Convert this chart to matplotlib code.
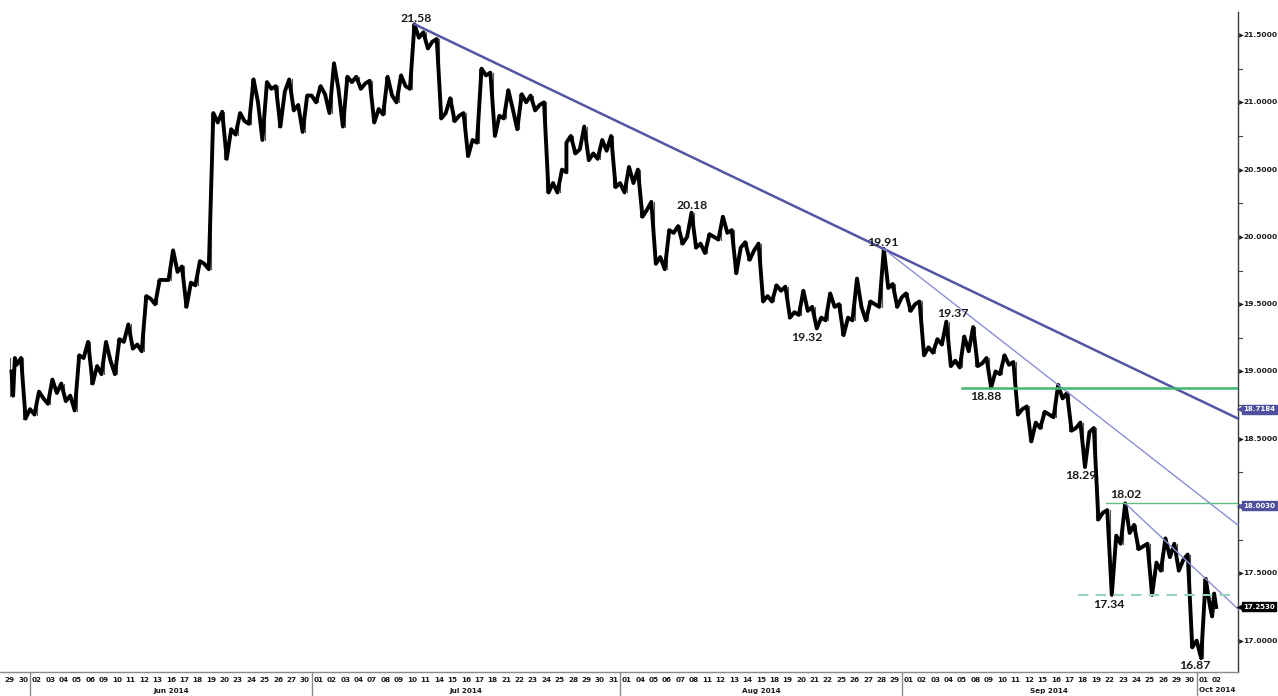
import matplotlib
matplotlib.use("Agg")
import matplotlib.pyplot as plt
from matplotlib.transforms import blended_transform_factory as btf

# ---------------- data (daily OHLC) ----------------
dates = ["2014-05-29", "2014-05-30",
         "2014-06-02", "2014-06-03", "2014-06-04", "2014-06-05", "2014-06-06", "2014-06-09", "2014-06-10",
         "2014-06-11", "2014-06-12", "2014-06-13", "2014-06-16", "2014-06-17", "2014-06-18", "2014-06-19",
         "2014-06-20", "2014-06-23", "2014-06-24", "2014-06-25", "2014-06-26", "2014-06-27", "2014-06-30",
         "2014-07-01", "2014-07-02", "2014-07-03", "2014-07-04", "2014-07-07", "2014-07-08", "2014-07-09",
         "2014-07-10", "2014-07-11", "2014-07-14", "2014-07-15", "2014-07-16", "2014-07-17", "2014-07-18",
         "2014-07-21", "2014-07-22", "2014-07-23", "2014-07-24", "2014-07-25", "2014-07-28", "2014-07-29",
         "2014-07-30", "2014-07-31",
         "2014-08-01", "2014-08-04", "2014-08-05", "2014-08-06", "2014-08-07", "2014-08-08", "2014-08-11",
         "2014-08-12", "2014-08-13", "2014-08-14", "2014-08-15", "2014-08-18", "2014-08-19", "2014-08-20",
         "2014-08-21", "2014-08-22", "2014-08-25", "2014-08-26", "2014-08-27", "2014-08-28", "2014-08-29",
         "2014-09-01", "2014-09-02", "2014-09-03", "2014-09-04", "2014-09-05", "2014-09-08", "2014-09-09",
         "2014-09-10", "2014-09-11", "2014-09-12", "2014-09-15", "2014-09-16", "2014-09-17", "2014-09-18",
         "2014-09-19", "2014-09-22", "2014-09-23", "2014-09-24", "2014-09-25", "2014-09-26", "2014-09-29",
         "2014-09-30",
         "2014-10-01", "2014-10-02"]

opens = [19.00, 19.05,
         18.72, 18.80, 18.84, 18.82, 19.10, 19.04, 19.08, 19.22, 19.20, 19.54, 19.68, 19.74, 19.66, 19.80,
         20.85, 20.80, 20.86, 21.00, 21.10, 21.08, 20.98,
         21.05, 21.06, 21.10, 21.15, 21.14, 20.95, 21.05, 21.12, 21.48, 21.45, 20.92, 20.90, 20.72, 21.20,
         20.90, 20.95, 21.00, 20.98, 20.40, 20.70, 20.65, 20.62, 20.64,
         20.40, 20.40, 20.20, 19.85, 20.03, 20.00, 19.95, 20.00, 20.03, 19.92, 19.90, 19.56, 19.60, 19.44,
         19.45, 19.40, 19.48, 19.40, 19.48, 19.50, 19.62,
         19.55, 19.50, 19.18, 19.20, 19.08, 19.15, 19.06, 19.00, 19.05, 18.72, 18.62, 18.68, 18.80, 18.58,
         18.55, 17.95, 17.78, 17.80, 17.70, 17.58, 17.62, 17.60,
         17.00, 17.25]
highs = [19.10, 19.10,
         18.85, 18.94, 18.91, 19.12, 19.22, 19.22, 19.24, 19.35, 19.56, 19.68, 19.90, 19.78, 19.82, 20.92,
         20.93, 20.92, 21.17, 21.15, 21.12, 21.17, 21.05,
         21.12, 21.29, 21.19, 21.19, 21.16, 21.19, 21.20, 21.58, 21.52, 21.47, 21.03, 20.92, 21.25, 21.22,
         21.09, 21.06, 21.05, 21.00, 20.50, 20.75, 20.82, 20.72, 20.75,
         20.52, 20.50, 20.26, 20.05, 20.08, 20.18, 20.02, 20.15, 20.05, 19.96, 19.95, 19.64, 19.63, 19.60,
         19.48, 19.58, 19.50, 19.69, 19.52, 19.91, 19.65,
         19.58, 19.52, 19.24, 19.37, 19.26, 19.33, 19.10, 19.12, 19.07, 18.74, 18.70, 18.90, 18.84, 18.62,
         18.58, 17.97, 18.02, 17.86, 17.72, 17.76, 17.72, 17.64,
         17.46, 17.35]
lows = [18.82, 18.65,
        18.68, 18.76, 18.78, 18.71, 18.91, 18.98, 18.98, 19.17, 19.15, 19.50, 19.68, 19.48, 19.64, 19.76,
        20.58, 20.76, 20.84, 20.72, 20.82, 20.94, 20.78,
        21.00, 20.92, 20.82, 21.10, 20.85, 20.91, 21.00, 21.10, 21.40, 20.88, 20.86, 20.60, 20.70, 20.75,
        20.88, 20.80, 20.94, 20.33, 20.33, 20.62, 20.57, 20.58, 20.37,
        20.33, 20.15, 19.80, 19.76, 19.95, 19.92, 19.88, 19.98, 19.73, 19.83, 19.52, 19.52, 19.40, 19.42,
        19.32, 19.38, 19.27, 19.38, 19.38, 19.48, 19.48,
        19.45, 19.12, 19.14, 19.04, 19.03, 19.04, 18.88, 18.98, 18.68, 18.48, 18.58, 18.66, 18.56, 18.29,
        17.90, 17.34, 17.72, 17.68, 17.34, 17.52, 17.52, 16.95,
        16.87, 17.18]
closes = [19.05, 18.72,
          18.80, 18.84, 18.82, 19.10, 19.04, 19.08, 19.22, 19.20, 19.54, 19.68, 19.74, 19.66, 19.80, 20.85,
          20.80, 20.86, 21.00, 21.10, 21.08, 20.98, 21.05,
          21.06, 21.10, 21.15, 21.14, 20.95, 21.05, 21.12, 21.48, 21.45, 20.92, 20.90, 20.72, 21.20, 20.90,
          20.95, 21.00, 20.98, 20.40, 20.48, 20.65, 20.62, 20.64, 20.40,
          20.40, 20.20, 19.85, 20.03, 20.00, 19.95, 20.00, 20.03, 19.92, 19.90, 19.56, 19.60, 19.44, 19.45,
          19.40, 19.48, 19.40, 19.48, 19.50, 19.62, 19.55,
          19.50, 19.18, 19.20, 19.08, 19.15, 19.06, 19.00, 19.05, 18.72, 18.62, 18.68, 18.80, 18.58, 18.55,
          17.95, 17.78, 17.80, 17.70, 17.58, 17.62, 17.60, 17.00,
          17.25, 17.25]

y_ticks = [17.0, 17.5, 18.0, 18.5, 19.0, 19.5, 20.0, 20.5, 21.0, 21.5]
month_names = {"06": "Jun 2014", "07": "Jul 2014", "08": "Aug 2014", "09": "Sep 2014", "10": "Oct 2014"}

# annotated extremes: (text, date, kind)
extremes = [("21.58", "2014-07-10", "H"), ("20.18", "2014-08-08", "H"), ("19.91", "2014-08-28", "H"),
            ("19.32", "2014-08-21", "L"), ("19.37", "2014-09-04", "H"), ("18.88", "2014-09-09", "L"),
            ("18.29", "2014-09-18", "L"), ("18.02", "2014-09-23", "H"), ("17.34", "2014-09-22", "L"),
            ("16.87", "2014-10-01", "L")]
label_offsets = {"21.58": (2, 6), "20.18": (1, 7), "19.91": (-1, 7), "19.32": (-10, -9), "19.37": (6, 8),
                 "18.88": (-5, -9), "18.29": (-4, -8), "18.02": (1, 9), "17.34": (-3, -10), "16.87": (-6, -7)}

# trend lines: anchors (date, kind of extreme)
trend_main = [("2014-07-10", "H"), ("2014-08-28", "H")]
trend_mid = [("2014-08-28", "H"), ("2014-09-16", "H")]
trend_short = [("2014-09-23", "H"), ("2014-10-01", "H")]
level_green = 18.88
level_green_thin = 18.02
level_dashed = 17.34
price_boxes = [("18.7184", 18.7184, "#4f519f"), ("18.0030", 18.0030, "#4f519f"), ("17.2530", 17.2530, "#000000")]

# ---------------- figure ----------------
W, H = 1278, 696
fig = plt.figure(figsize=(W / 100, H / 100), dpi=100)
ax = fig.add_axes([0, 24 / H, 1238 / W, 660 / H])
ax.set_xlim(-0.2386, 92.08)
ax.set_ylim(16.767, 21.671)
for s in ["top", "left"]:
    ax.spines[s].set_visible(False)
ax.spines["right"].set_color("#3a3a3a")
ax.spines["right"].set_linewidth(1.0)
ax.spines["bottom"].set_color("#8a8a8a")
ax.spines["bottom"].set_linewidth(1.0)
ax.set_xticks([])
ax.set_yticks([])

n = len(dates)


def frac_pos(i, kind):
    up = closes[i] >= opens[i]
    if kind == "H":
        return i + (0.67 if up else 0.33)
    return i + (0.33 if up else 0.67)


# price path
xs, ys = [], []
for i in range(n):
    o, h, l, c = opens[i], highs[i], lows[i], closes[i]
    seq = [o, l, h, c] if c >= o else [o, h, l, c]
    fr = [0.0, 0.33, 0.67, 1.0]
    if i == 0:
        fr = [0.62, 0.74, 0.87, 1.0]
    if i == n - 1:
        fr = [0.0, 0.15, 0.3, 0.45]
    for f, v in zip(fr, seq):
        xs.append(i + f)
        ys.append(v)
# thin wicks
for i in range(n):
    cx = i + 0.5 if i < n - 1 else i + 0.22
    ax.plot([cx, cx], [lows[i], highs[i]], color="#555555", lw=0.8, zorder=2)
ax.plot(xs, ys, color="black", lw=2.8, zorder=3, solid_joinstyle="round")

idx = {d: k for k, d in enumerate(dates)}


def anchor(d, kind):
    i = idx[d]
    return frac_pos(i, kind), (highs[i] if kind == "H" else lows[i])


x_end = 92.08


def trend(anchors, color, lw):
    (x1, y1), (x2, y2) = anchor(*anchors[0]), anchor(*anchors[1])
    slope = (y2 - y1) / (x2 - x1)
    ax.plot([x1, x_end], [y1, y1 + slope * (x_end - x1)], color=color, lw=lw, zorder=4, clip_on=False)


trend(trend_main, "#5254a6", 1.8)
trend(trend_mid, "#8a8ed6", 1.0)
trend(trend_short, "#8a8ed6", 1.0)

ax.plot([71.5, x_end], [level_green, level_green], color="#3fb86e", lw=1.8, zorder=4)
ax.plot([82.2, x_end], [level_green_thin, level_green_thin], color="#5dbd84", lw=1.0, zorder=4)
ax.plot([80.15, x_end], [level_dashed, level_dashed], color="#98d3bd", lw=1.5, ls=(0, (5, 3.5)), zorder=4)

# annotations
for txt, d, kind in extremes:
    x, y = anchor(d, kind)
    dx, dy = label_offsets[txt]
    ax.annotate(txt, xy=(x, y), xytext=(dx * 0.72, dy * 0.72), textcoords="offset points",
                ha="center", va="center", fontsize=8.8, family="Lato", fontweight="bold",
                color="#1a1a1a", zorder=6)

# right axis ticks / labels (a tick label hidden behind a price box is not drawn)
tr = btf(ax.transAxes, ax.transData)
box_values = [b[1] for b in price_boxes]
for v in y_ticks:
    ax.plot([1.0025], [v], marker=">", ms=3.4, color="#222222", transform=tr, clip_on=False, mec="none")
    if min(abs(v - bv) for bv in box_values) > 0.06:
        ax.text(1.0045, v, f"{v:.4f}", transform=tr, ha="left", va="center", fontsize=5.4,
                family="DejaVu Sans", fontweight="bold", color="#1a1a1a")
    vm = v + 0.25
    if vm < 21.67:
        ax.plot([1.0, 1.0035], [vm, vm], color="#444444", lw=0.8, transform=tr, clip_on=False)

for txt, v, col in price_boxes:
    ax.plot([1.0020], [v], marker="<", ms=5.5, color=col, transform=tr, clip_on=False, mec="none", zorder=7)
    ax.text(1.0042, v, txt, transform=tr, ha="left", va="center", fontsize=5.0, family="DejaVu Sans",
            fontweight="bold", color="white", zorder=8,
            bbox=dict(boxstyle="square,pad=0.2", fc=col, ec=col))

# bottom axis: day labels, month separators and labels
trx = btf(ax.transData, ax.transAxes)
months = [d[5:7] for d in dates]
for i, d in enumerate(dates):
    ax.text(i + 0.5, -8.5 / 660, d[8:10], transform=trx, ha="center", va="center", fontsize=5.2,
            family="DejaVu Sans", fontweight="bold", color="#1a1a1a", clip_on=False)
starts = [i for i in range(1, n) if months[i] != months[i - 1]]
for b in starts:
    ax.plot([b, b], [0, -24 / 660], transform=trx, color="#8a8a8a", lw=1.0, clip_on=False)
bounds = starts + [x_end]
for k, b in enumerate(starts):
    m = months[b]
    ax.text((b + bounds[k + 1]) / 2, -18.5 / 660, month_names[m], transform=trx, ha="center", va="center",
            fontsize=5.2, family="DejaVu Sans", fontweight="bold", color="#1a1a1a", clip_on=False)

fig.savefig("out.png", dpi=100)
